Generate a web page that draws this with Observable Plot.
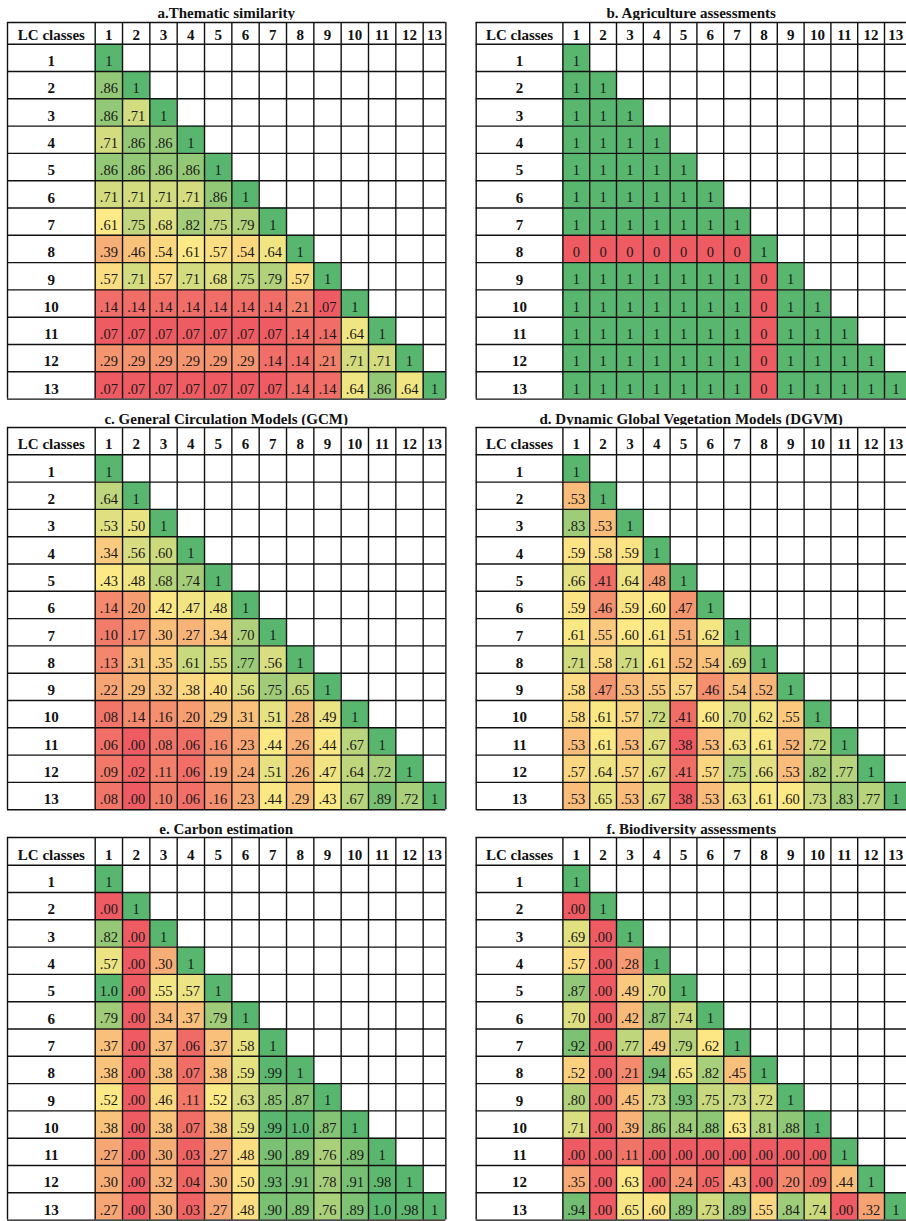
<!DOCTYPE html>
<html><head><meta charset="utf-8">
<script src="https://cdn.jsdelivr.net/npm/d3@7"></script>
<script src="https://cdn.jsdelivr.net/npm/@observablehq/plot@0.6"></script>
<style>
html,body{margin:0;padding:0;background:#fff;width:906px;height:1221px;overflow:hidden;}
.panel{position:absolute;width:453px;overflow:hidden;}
.panel svg{max-width:none !important;display:block;}
.title{position:absolute;font:bold 15px "Liberation Serif","Times New Roman",serif;text-align:center;white-space:nowrap;color:#111;line-height:16px;}
</style></head><body><div id="root"></div>
<script>
// ---- data ----
const classes = ["1","2","3","4","5","6","7","8","9","10","11","12","13"];
const cornerLabel = "LC classes";
const titles = [
  "a.Thematic similarity",
  "b. Agriculture assessments",
  "c. General Circulation Models (GCM)",
  "d. Dynamic Global Vegetation Models (DGVM)",
  "e. Carbon estimation",
  "f. Biodiversity assessments"
];
const thematic = [
  "1",
  ".86 1",
  ".86 .71 1",
  ".71 .86 .86 1",
  ".86 .86 .86 .86 1",
  ".71 .71 .71 .71 .86 1",
  ".61 .75 .68 .82 .75 .79 1",
  ".39 .46 .54 .61 .57 .54 .64 1",
  ".57 .71 .57 .71 .68 .75 .79 .57 1",
  ".14 .14 .14 .14 .14 .14 .14 .21 .07 1",
  ".07 .07 .07 .07 .07 .07 .07 .14 .14 .64 1",
  ".29 .29 .29 .29 .29 .29 .14 .14 .21 .71 .71 1",
  ".07 .07 .07 .07 .07 .07 .07 .14 .14 .64 .86 .64 1"
];
const agriculture = [
  "1",
  "1 1",
  "1 1 1",
  "1 1 1 1",
  "1 1 1 1 1",
  "1 1 1 1 1 1",
  "1 1 1 1 1 1 1",
  "0 0 0 0 0 0 0 1",
  "1 1 1 1 1 1 1 0 1",
  "1 1 1 1 1 1 1 0 1 1",
  "1 1 1 1 1 1 1 0 1 1 1",
  "1 1 1 1 1 1 1 0 1 1 1 1",
  "1 1 1 1 1 1 1 0 1 1 1 1 1"
];
const gcm = [
  "1",
  ".64 1",
  ".53 .50 1",
  ".34 .56 .60 1",
  ".43 .48 .68 .74 1",
  ".14 .20 .42 .47 .48 1",
  ".10 .17 .30 .27 .34 .70 1",
  ".13 .31 .35 .61 .55 .77 .56 1",
  ".22 .29 .32 .38 .40 .56 .75 .65 1",
  ".08 .14 .16 .20 .29 .31 .51 .28 .49 1",
  ".06 .00 .08 .06 .16 .23 .44 .26 .44 .67 1",
  ".09 .02 .11 .06 .19 .24 .51 .26 .47 .64 .72 1",
  ".08 .00 .10 .06 .16 .23 .44 .29 .43 .67 .89 .72 1"
];
const dgvm = [
  "1",
  ".53 1",
  ".83 .53 1",
  ".59 .58 .59 1",
  ".66 .41 .64 .48 1",
  ".59 .46 .59 .60 .47 1",
  ".61 .55 .60 .61 .51 .62 1",
  ".71 .58 .71 .61 .52 .54 .69 1",
  ".58 .47 .53 .55 .57 .46 .54 .52 1",
  ".58 .61 .57 .72 .41 .60 .70 .62 .55 1",
  ".53 .61 .53 .67 .38 .53 .63 .61 .52 .72 1",
  ".57 .64 .57 .67 .41 .57 .75 .66 .53 .82 .77 1",
  ".53 .65 .53 .67 .38 .53 .63 .61 .60 .73 .83 .77 1"
];
const carbon = [
  "1",
  ".00 1",
  ".82 .00 1",
  ".57 .00 .30 1",
  "1.0 .00 .55 .57 1",
  ".79 .00 .34 .37 .79 1",
  ".37 .00 .37 .06 .37 .58 1",
  ".38 .00 .38 .07 .38 .59 .99 1",
  ".52 .00 .46 .11 .52 .63 .85 .87 1",
  ".38 .00 .38 .07 .38 .59 .99 1.0 .87 1",
  ".27 .00 .30 .03 .27 .48 .90 .89 .76 .89 1",
  ".30 .00 .32 .04 .30 .50 .93 .91 .78 .91 .98 1",
  ".27 .00 .30 .03 .27 .48 .90 .89 .76 .89 1.0 .98 1"
];
const biodiversity = [
  "1",
  ".00 1",
  ".69 .00 1",
  ".57 .00 .28 1",
  ".87 .00 .49 .70 1",
  ".70 .00 .42 .87 .74 1",
  ".92 .00 .77 .49 .79 .62 1",
  ".52 .00 .21 .94 .65 .82 .45 1",
  ".80 .00 .45 .73 .93 .75 .73 .72 1",
  ".71 .00 .39 .86 .84 .88 .63 .81 .88 1",
  ".00 .00 .11 .00 .00 .00 .00 .00 .00 .00 1",
  ".35 .00 .63 .00 .24 .05 .43 .00 .20 .09 .44 1",
  ".94 .00 .65 .60 .89 .73 .89 .55 .84 .74 .00 .32 1"
];
const matrices = [thematic, agriculture, gcm, dgvm, carbon, biodiversity];

// ---- layout / style ----
const RED = "#ef5b62", YEL = "#fde985", GRN = "#58b66f";
const rowH = 27.3, lastW = 22.7;
const FONT = '"Liberation Serif","Times New Roman",serif';
const L = {colW: 27.33, lcW: 87.7}, R = {colW: 26.8, lcW: 86.7};
const layout = [
  {x0: 0,   tl: 7,    ...L, top: 21.7,  hdr: 21.7, titleY: 13,  hdy: 1.5},
  {x0: 453, tl: 22.7, ...R, top: 21.7,  hdr: 21.7, titleY: 13,  hdy: 1.5},
  {x0: 0,   tl: 7,    ...L, top: 426.7, hdr: 27.3, titleY: 419, hdy: 3.5},
  {x0: 453, tl: 22.7, ...R, top: 426.7, hdr: 27.3, titleY: 419, hdy: 3.5},
  {x0: 0,   tl: 7,    ...L, top: 837.3, hdr: 27.7, titleY: 829, hdy: 3.5},
  {x0: 453, tl: 22.7, ...R, top: 837.3, hdr: 27.7, titleY: 829, hdy: 3.5}
];

function makePanel(rows, p) {
  const data = [];
  rows.forEach((row, i) => row.split(" ").forEach((s, j) => data.push({r: i + 1, c: j + 1, label: s, v: +s})));
  const vals = data.map(d => d.v);
  const lo = d3.min(vals), hi = d3.max(vals), mid = d3.median(vals);
  const col = (mid > lo && mid < hi)
    ? {domain: [lo, mid, hi], range: [RED, YEL, GRN]}
    : {domain: [lo, hi], range: [RED, GRN]};
  const tableW = p.lcW + 12 * p.colW + lastW;
  const lcU = p.lcW / p.colW, lastU = lastW / p.colW, hdrU = p.hdr / rowH;
  const xr = c => c === 13 ? 12 + lastU : c;
  const xc = c => c === 13 ? 12 + lastU / 2 : c - 0.5;
  const xb = [-lcU, ...d3.range(0, 13), 12 + lastU];
  const yb = [-hdrU, ...d3.range(0, 14)];
  const H = Math.ceil(p.hdr + 13 * rowH + 4);
  return Plot.plot({
    width: 453, height: H,
    style: {fontFamily: FONT, background: "white"},
    x: {type: "linear", domain: [-lcU, 12 + lastU], range: [p.tl, p.tl + tableW], axis: null},
    y: {type: "linear", domain: [-hdrU, 13], range: [2, 2 + p.hdr + 13 * rowH], axis: null},
    color: {type: "linear", interpolate: "rgb", ...col},
    marks: [
      Plot.rect(data, {x1: d => d.c - 1, x2: d => xr(d.c), y1: d => d.r - 1, y2: d => d.r, fill: "v"}),
      Plot.text(data, {x: d => xc(d.c), y: d => d.r - 0.5, text: "label", fontSize: 14.5, dy: 3.5, fill: "#1a1a1a", fontFamily: FONT}),
      Plot.text(classes, {x: (d, i) => xc(i + 1), y: -hdrU / 2, text: d => d, fontSize: 15, fontWeight: "bold", dy: p.hdy, fill: "#111", fontFamily: FONT}),
      Plot.text(classes, {x: -lcU / 2, y: (d, i) => i + 0.5, text: d => d, fontSize: 15, fontWeight: "bold", dy: 3.5, fill: "#111", fontFamily: FONT}),
      Plot.text([cornerLabel], {x: -lcU / 2, y: -hdrU / 2, text: d => d, fontSize: 15, fontWeight: "bold", dy: p.hdy, fill: "#111", fontFamily: FONT}),
      Plot.ruleX(xb, {x: d => d, y1: -hdrU, y2: 13, stroke: "#111", strokeWidth: 1.4}),
      Plot.ruleY(yb, {y: d => d, x1: -lcU, x2: 12 + lastU, stroke: "#111", strokeWidth: 1.4})
    ]
  });
}

const root = document.getElementById("root");
matrices.forEach((m, k) => {
  const p = layout[k];
  const tableW = p.lcW + 12 * p.colW + lastW;
  const t = document.createElement("div");
  t.className = "title";
  t.textContent = titles[k];
  t.style.left = (p.x0 + p.tl) + "px";
  t.style.width = tableW + "px";
  t.style.top = (p.titleY - 8) + "px";
  root.appendChild(t);
  const div = document.createElement("div");
  div.className = "panel";
  div.style.left = p.x0 + "px";
  div.style.top = (p.top - 2) + "px";
  div.appendChild(makePanel(m, p));
  root.appendChild(div);
});
</script>
</body></html>
